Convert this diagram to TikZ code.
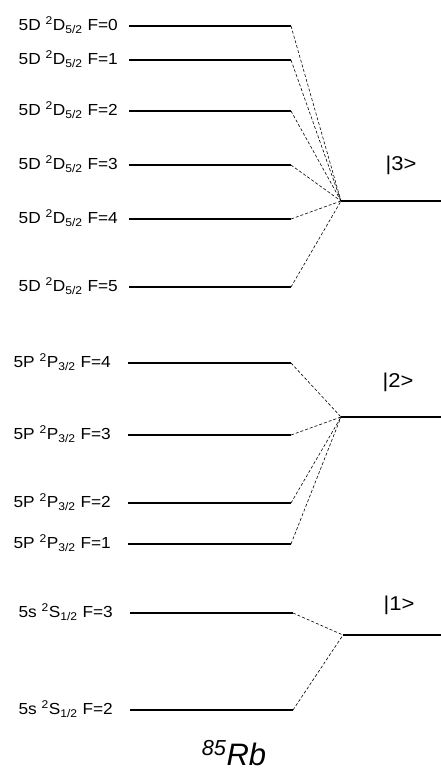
\documentclass[tikz,border=0pt]{standalone}
\usepackage{fontspec}
\setmainfont{Liberation Sans}
\begin{document}
\begin{tikzpicture}[x=1pt,y=-1pt,
  level/.style={line width=1.6pt},
  link/.style={densely dashed,line width=0.6pt},
  lbl/.style={anchor=base east,inner sep=0pt,xscale=1.08,font=\fontsize{16}{18}\selectfont},
  ket/.style={anchor=base,inner sep=0pt,xscale=1.1,font=\fontsize{20}{22}\selectfont}]
\useasboundingbox (0,0) rectangle (441,777);
% 5D levels
\foreach \n/\y in {0/26,1/60,2/111,3/165,4/219,5/287}{
  \coordinate (d\n a) at (129,\y);
  \coordinate (d\n b) at (291,\y);
  \node[lbl] (dl\n) at (118,\y+4.8) {5D \textsuperscript{2}D\textsubscript{5/2} F=\n};
  \draw[level] (d\n a) -- (d\n b);
}
\coordinate (c3) at (341,201);
\coordinate (r3) at (441,201);
\draw[level] (c3) -- (r3);
\foreach \n in {0,...,5}{\draw[link] (d\n b) -- (c3);}
\node[ket] (k3) at (401,170) {|3>};
% 5P levels
\foreach \n/\y in {4/363,3/435,2/503,1/544}{
  \coordinate (p\n a) at (128,\y);
  \coordinate (p\n b) at (291,\y);
  \node[lbl] (pl\n) at (111,\y+4.8) {5P \textsuperscript{2}P\textsubscript{3/2} F=\n};
  \draw[level] (p\n a) -- (p\n b);
}
\coordinate (c2) at (341,417);
\coordinate (r2) at (441,417);
\draw[level] (c2) -- (r2);
\foreach \n in {1,...,4}{\draw[link] (p\n b) -- (c2);}
\node[ket] (k2) at (398,387) {|2>};
% 5S levels
\foreach \n/\y in {3/613,2/710}{
  \coordinate (s\n a) at (130,\y);
  \coordinate (s\n b) at (293,\y);
  \node[lbl] (sl\n) at (113,\y+4.8) {5s \textsuperscript{2}S\textsubscript{1/2} F=\n};
  \draw[level] (s\n a) -- (s\n b);
}
\coordinate (c1) at (343,635);
\coordinate (r1) at (441,635);
\draw[level] (c1) -- (r1);
\foreach \n in {2,3}{\draw[link] (s\n b) -- (c1);}
\node[ket] (k1) at (399,610) {|1>};
\node[anchor=base,inner sep=0pt,font=\fontsize{31}{35}\selectfont\itshape] (rb) at (234,765) {\textsuperscript{85}Rb};
\end{tikzpicture}
\end{document}
